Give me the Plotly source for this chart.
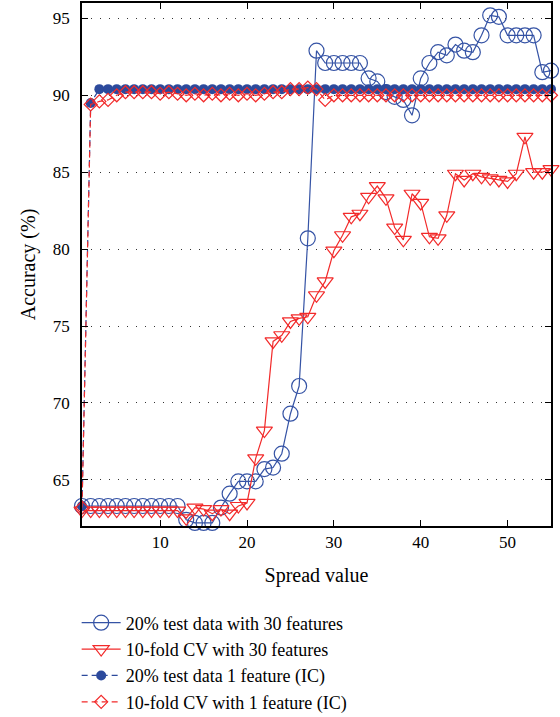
import plotly.graph_objects as go

spread = list(range(1, 56))

test20_30feat = [63.3]*12 + [62.4, 62.2, 62.2, 62.2, 63.2, 64.1, 64.9, 64.9, 64.9, 65.7,
                  65.8, 66.7, 69.3, 71.1, 80.7, 92.9, 92.1, 92.1, 92.1, 92.1,
                  92.1, 91.1, 90.9, 90.2, 89.9, 89.7, 88.7, 91.1, 92.1, 92.8,
                  92.6, 93.3, 92.9, 92.8, 93.9, 95.2, 95.1, 93.9, 93.9, 93.9,
                  93.9, 91.5, 91.6]

cv10_30feat = [63.0]*12 + [62.5, 63.2, 63.1, 62.8, 63.1, 62.8, 63.3, 63.5, 66.4, 68.2,
                74.0, 74.4, 75.3, 75.5, 75.6, 77.0, 77.9, 79.9, 80.9, 82.1,
                82.3, 83.4, 84.1, 83.3, 81.4, 80.6, 83.6, 83.0, 80.8, 80.7,
                82.2, 84.9, 84.5, 84.9, 84.7, 84.6, 84.5, 84.4, 84.9, 87.3,
                85.0, 85.0, 85.2]

test20_1feat = [63.3, 89.5] + [90.4]*53

cv10_1feat = [63.2, 89.4, 89.6, 89.7, 90.0, 90.2, 90.2, 90.2, 90.2, 90.1,
              90.2, 90.1, 90.0, 90.1, 90.0, 90.1, 90.0, 90.1, 90.0, 90.1,
              90.0, 90.1, 90.2, 90.2, 90.4, 90.4, 90.5, 90.4, 89.7] + [90.0]*26

names = ["20% test data with 30 features", "10-fold CV with 30 features",
         "20% test data 1 feature (IC)", "10-fold CV with 1 feature (IC)"]

x_ticks = [10, 20, 30, 40, 50]
y_ticks = [65, 70, 75, 80, 85, 90, 95]

BLUE = "#3553a5"
BLUE_D = "#2c4a9c"
RED = "#f22a2a"
FONT = "Liberation Serif"

fig = go.Figure()
fig.add_trace(go.Scatter(x=spread, y=test20_30feat, name=names[0], mode="lines+markers",
                         line=dict(color=BLUE, width=1.2),
                         marker=dict(symbol="circle-open", size=15, color=BLUE, line=dict(width=1.2)),
                         cliponaxis=False))
fig.add_trace(go.Scatter(x=spread, y=cv10_30feat, name=names[1], mode="lines+markers",
                         line=dict(color=RED, width=1.2),
                         marker=dict(symbol="triangle-down-open", size=14, color=RED, line=dict(width=1.2)),
                         cliponaxis=False))
fig.add_trace(go.Scatter(x=spread, y=test20_1feat, name=names[2], mode="lines+markers",
                         line=dict(color=BLUE_D, width=1.2, dash="6px,4px"),
                         marker=dict(symbol="circle", size=10, color=BLUE_D),
                         cliponaxis=False))
fig.add_trace(go.Scatter(x=spread, y=cv10_1feat, name=names[3], mode="lines+markers",
                         line=dict(color=RED, width=1.2, dash="6px,4px"),
                         marker=dict(symbol="diamond-open", size=10, color=RED, line=dict(width=1.2)),
                         cliponaxis=False))

fig.update_layout(
    width=560, height=717,
    margin=dict(l=82, r=9, t=3, b=191, autoexpand=False),
    paper_bgcolor="white", plot_bgcolor="white",
    font=dict(family=FONT, size=17, color="black"),
    showlegend=True,
    legend=dict(x=-0.0114, y=-0.150, xanchor="left", yanchor="top",
                font=dict(family=FONT, size=18, color="black"),
                itemwidth=39,
                bgcolor="rgba(0,0,0,0)", borderwidth=0, tracegroupgap=0),
    xaxis=dict(range=[1, 55], tickvals=x_ticks, ticks="inside", ticklen=6, tickcolor="black",
               showline=True, linecolor="black", linewidth=1.5, mirror="ticks",
               showgrid=False, zeroline=False, automargin=False,
               tickfont=dict(family=FONT, size=17),
               title=dict(text="Spread value", font=dict(family=FONT, size=20), standoff=17)),
    yaxis=dict(range=[62, 96], tickvals=y_ticks, ticks="inside", ticklen=6, tickcolor="black",
               showline=True, linecolor="black", linewidth=1.5, mirror="ticks",
               showgrid=True, gridcolor="#333333", gridwidth=1, griddash="1px,8px",
               zeroline=False, ticklabelstandoff=7, automargin=False,
               tickfont=dict(family=FONT, size=17),
               title=dict(text="Accuracy (%)", font=dict(family=FONT, size=20), standoff=12)),
)

fig.write_html("out.html", config={"displayModeBar": False},
               post_script="document.body.style.margin='0px';")
